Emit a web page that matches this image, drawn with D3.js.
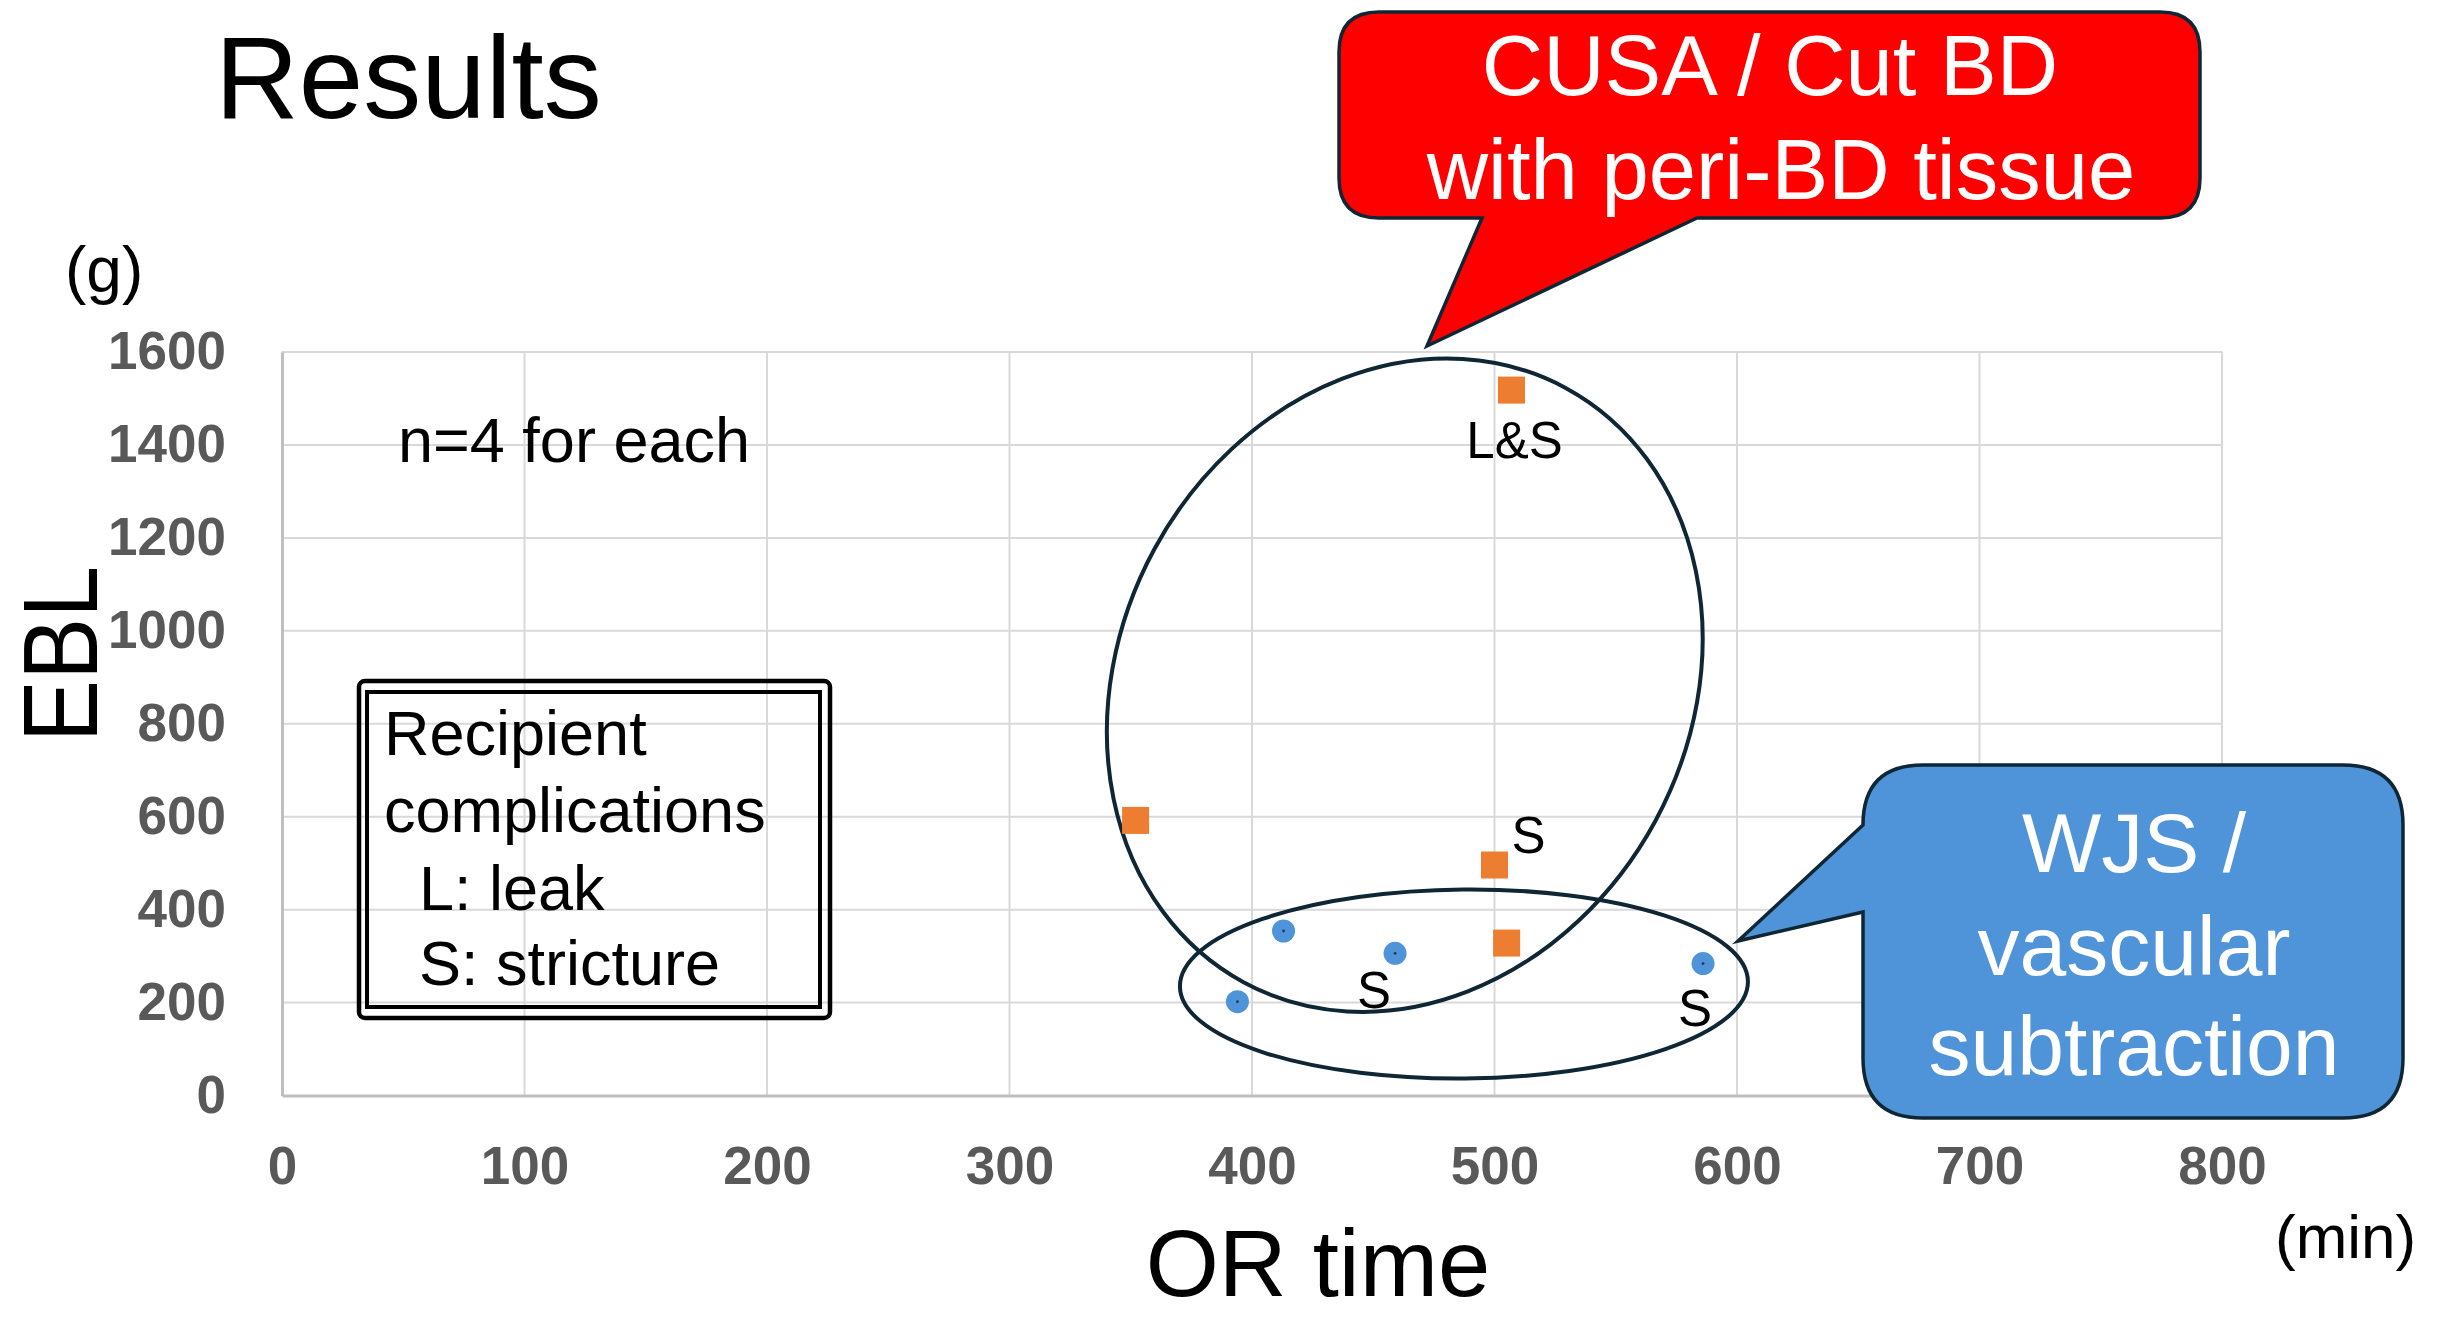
<!DOCTYPE html>
<html>
<head>
<meta charset="utf-8">
<script src="https://cdn.jsdelivr.net/npm/d3@7"></script>
<style>
  html, body { margin: 0; padding: 0; background: #ffffff; }
  svg { display: block; }
  text { font-family: "Liberation Sans", Arial, sans-serif; }
</style>
</head>
<body>
<svg id="chart" width="2440" height="1318"></svg>
<script>
// ---------------- data ----------------
const xTicks = [0, 100, 200, 300, 400, 500, 600, 700, 800];
const yTicks = [0, 200, 400, 600, 800, 1000, 1200, 1400, 1600];

// CUSA / Cut BD with peri-BD tissue (orange squares)
const cusaX = [507, 352, 500, 505];
const cusaY = [1518, 592, 496, 328];

// WJS / vascular subtraction (blue circles)
const wjsX = [413, 459, 394, 586];
const wjsY = [354, 306, 202, 284];

// complication labels: series, point index, text
const complicationSeries = ["cusa", "cusa", "wjs", "wjs"];
const complicationIndex  = [0, 2, 1, 3];
const complicationText   = ["L&S", "S", "S", "S"];

const legendLines = ["Recipient", "complications", "L: leak", "S: stricture"];
const cusaCallout = ["CUSA / Cut BD", "with peri-BD tissue"];
const wjsCallout = ["WJS /", "vascular", "subtraction"];

// ---------------- layout ----------------
const W = 2440, H = 1318;
const plot = { left: 282, right: 2222, top: 352, bottom: 1095.5 };
const labelOffsets = [[3, 68], [34, -12], [-21, 55], [-8, 62]];

const svg = d3.select("#chart");
const x = d3.scaleLinear().domain([0, 800]).range([plot.left, plot.right]);
const y = d3.scaleLinear().domain([0, 1600]).range([plot.bottom, plot.top]);

// gridlines
const grid = svg.append("g");
grid.selectAll("line.h").data(yTicks.filter(d => d > 0)).join("line")
  .attr("x1", plot.left).attr("x2", plot.right)
  .attr("y1", d => y(d)).attr("y2", d => y(d))
  .attr("stroke", "#d9d9d9").attr("stroke-width", 2);
grid.selectAll("line.v").data(xTicks.filter(d => d > 0)).join("line")
  .attr("y1", plot.top).attr("y2", plot.bottom)
  .attr("x1", d => x(d)).attr("x2", d => x(d))
  .attr("stroke", "#d9d9d9").attr("stroke-width", 2);

// axes
const xAxis = svg.append("g").attr("transform", `translate(0,${plot.bottom})`)
  .call(d3.axisBottom(x).tickValues(xTicks).tickSize(0).tickPadding(51).tickFormat(d3.format("d")));
const yAxis = svg.append("g").attr("transform", `translate(${plot.left},0)`)
  .call(d3.axisLeft(y).tickValues(yTicks).tickSize(0).tickPadding(56).tickFormat(d3.format("d")));
[xAxis, yAxis].forEach(a => {
  a.select(".domain").attr("stroke", "#bfbfbf").attr("stroke-width", 3);
  a.selectAll("text")
    .attr("fill", "#595959")
    .style("font-family", '"Liberation Sans", Arial, sans-serif')
    .style("font-weight", "bold")
    .style("font-size", "53px");
});

// ellipses (annotations), centres in data units
const ellipses = [
  { cx: 463, cy: 883, rx: 285, ry: 338, rot: 28.5 },
  { cx: 487.4, cy: 240, rx: 284, ry: 94.5, rot: -0.5 }
];
svg.append("g").selectAll("ellipse").data(ellipses).join("ellipse")
  .attr("transform", d => `translate(${x(d.cx)},${y(d.cy)}) rotate(${d.rot})`)
  .attr("rx", d => d.rx).attr("ry", d => d.ry)
  .attr("fill", "none").attr("stroke", "#0f2735").attr("stroke-width", 4);

// points
const cusa = cusaX.map((v, i) => ({ x: v, y: cusaY[i] }));
const wjs = wjsX.map((v, i) => ({ x: v, y: wjsY[i] }));
const sq = 27;
svg.append("g").selectAll("rect").data(cusa).join("rect")
  .attr("x", d => x(d.x) - sq / 2).attr("y", d => y(d.y) - sq / 2)
  .attr("width", sq).attr("height", sq).attr("fill", "#ED7D31");
const wg = svg.append("g");
wg.selectAll("circle.m").data(wjs).join("circle")
  .attr("cx", d => x(d.x)).attr("cy", d => y(d.y)).attr("r", 11.5)
  .attr("fill", "#4F94D9");
wg.selectAll("circle.c").data(wjs).join("circle")
  .attr("cx", d => x(d.x)).attr("cy", d => y(d.y)).attr("r", 1.4)
  .attr("fill", "#1f3a55");

// complication labels
const seriesMap = { cusa, wjs };
svg.append("g").selectAll("text").data(complicationText).join("text")
  .attr("x", (t, i) => x(seriesMap[complicationSeries[i]][complicationIndex[i]].x) + labelOffsets[i][0])
  .attr("y", (t, i) => y(seriesMap[complicationSeries[i]][complicationIndex[i]].y) + labelOffsets[i][1])
  .attr("text-anchor", "middle").attr("font-size", 51).attr("fill", "#000")
  .text(t => t);

// titles
svg.append("text").attr("x", 215).attr("y", 118).attr("font-size", 116).text("Results");
svg.append("text").attr("x", 65).attr("y", 292).attr("font-size", 64).text("(g)");
svg.append("text").attr("transform", "translate(97,654) rotate(-90) scale(0.88,1)")
  .attr("text-anchor", "middle").attr("font-size", 106).text("EBL");
svg.append("text").attr("x", 1318).attr("y", 1296).attr("text-anchor", "middle")
  .attr("font-size", 94).text("OR time");
svg.append("text").attr("x", 2275).attr("y", 1258).attr("font-size", 62).text("(min)");
svg.append("text").attr("x", 398).attr("y", 462).attr("font-size", 63).text("n=4 for each");

// legend box (double border)
svg.append("rect").attr("x", 359).attr("y", 681).attr("width", 471).attr("height", 337)
  .attr("rx", 6).attr("fill", "none").attr("stroke", "#000").attr("stroke-width", 4.5);
svg.append("rect").attr("x", 367).attr("y", 692).attr("width", 453).attr("height", 315)
  .attr("fill", "none").attr("stroke", "#000").attr("stroke-width", 4);
const legX = [384, 384, 419, 419], legY = [755, 832, 910, 985];
svg.append("g").selectAll("text").data(legendLines).join("text")
  .attr("x", (d, i) => legX[i]).attr("y", (d, i) => legY[i])
  .attr("font-size", 63).attr("fill", "#000").text(d => d);

// callouts
function roundRectTailBottom(x0, y0, x1, y1, r, bR, tip, bL) {
  return `M${x0 + r},${y0} L${x1 - r},${y0} Q${x1},${y0} ${x1},${y0 + r}` +
    ` L${x1},${y1 - r} Q${x1},${y1} ${x1 - r},${y1}` +
    ` L${bR},${y1} L${tip[0]},${tip[1]} L${bL},${y1}` +
    ` L${x0 + r},${y1} Q${x0},${y1} ${x0},${y1 - r}` +
    ` L${x0},${y0 + r} Q${x0},${y0} ${x0 + r},${y0} Z`;
}
function roundRectTailLeft(x0, y0, x1, y1, r, bB, tip, bT) {
  return `M${x0 + r},${y0} L${x1 - r},${y0} Q${x1},${y0} ${x1},${y0 + r}` +
    ` L${x1},${y1 - r} Q${x1},${y1} ${x1 - r},${y1}` +
    ` L${x0 + r},${y1} Q${x0},${y1} ${x0},${y1 - r}` +
    ` L${x0},${bB} L${tip[0]},${tip[1]} L${x0},${bT}` +
    ` L${x0},${y0 + r} Q${x0},${y0} ${x0 + r},${y0} Z`;
}
svg.append("path")
  .attr("d", roundRectTailBottom(1339, 12, 2200, 218, 40, 1697, [1427, 346], 1482))
  .attr("fill", "#FF0000").attr("stroke", "#0f2735").attr("stroke-width", 3.5)
  .attr("stroke-linejoin", "miter");
const cusaTX = [1770, 1781], cusaTY = [95, 199];
svg.append("g").selectAll("text").data(cusaCallout).join("text")
  .attr("x", (d, i) => cusaTX[i]).attr("y", (d, i) => cusaTY[i])
  .attr("text-anchor", "middle").attr("font-size", 85).attr("fill", "#fff").text(d => d);

svg.append("path")
  .attr("d", roundRectTailLeft(1863, 765, 2403, 1118, 60, 912, [1738, 941], 825))
  .attr("fill", "#4F94D9").attr("stroke", "#0f2735").attr("stroke-width", 3.5);
const wjsTY = [872, 975, 1075];
svg.append("g").selectAll("text").data(wjsCallout).join("text")
  .attr("x", 2134).attr("y", (d, i) => wjsTY[i])
  .attr("text-anchor", "middle").attr("font-size", 84).attr("fill", "#fff").text(d => d);
</script>
</body>
</html>
